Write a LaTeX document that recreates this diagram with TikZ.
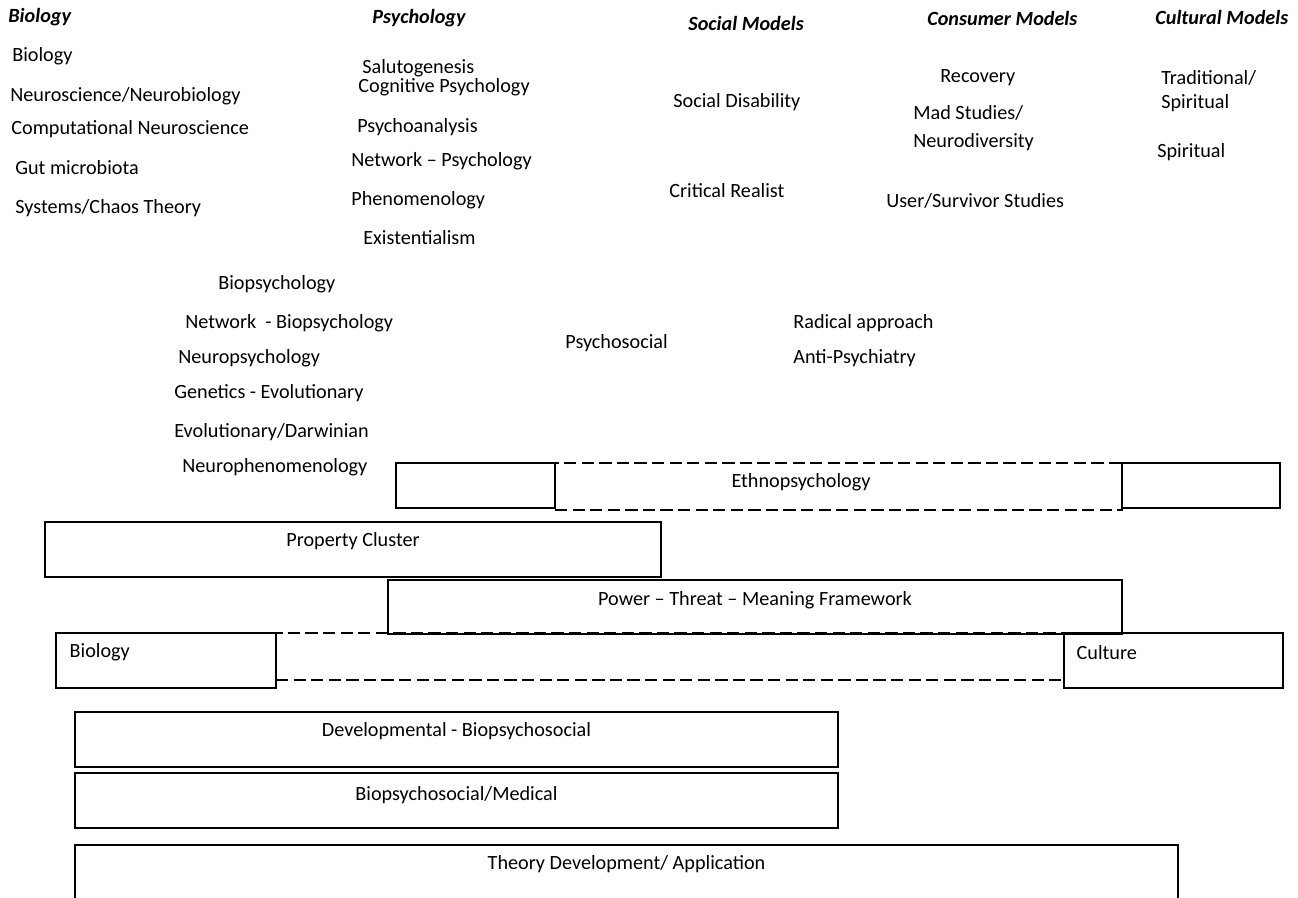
\documentclass[tikz,border=0pt]{standalone}
\usepackage{fontspec}
\setmainfont{Carlito}
\usetikzlibrary{fit,positioning}
\begin{document}
\begin{tikzpicture}[
    x=0.02cm, y=-0.02cm,
    every node/.style={font=\fontsize{11.5}{13}\selectfont},
    item/.style={anchor=west, inner sep=0pt},
    head/.style={anchor=west, inner sep=0pt, font=\fontsize{11.5}{13}\selectfont\bfseries\itshape},
    lbl/.style={inner sep=0pt},
    box/.style={draw, line width=0.8pt, inner sep=0pt},
    dashbox/.style={draw, line width=0.8pt, inner sep=0pt, dash pattern=on 7pt off 3pt}
]
    \useasboundingbox (0,0) rectangle (1298,898);

    % column headings
    \node[head] (hBio) at (8,17) {Biology};
    \node[head] (hPsy) at (372,18) {Psychology};
    \node[head] (hSoc) at (688,23) {Social Models};
    \node[head] (hCon) at (927,18) {Consumer Models};
    \node[head] (hCul) at (1155,17) {Cultural Models};

    % biology
    \node[item] (bio) at (12,56) {Biology};
    \node[item] (neuro) at (10,96) {Neuroscience/Neurobiology};
    \node[item] (comp) at (11,129) {Computational Neuroscience};
    \node[item] (gut) at (15,168) {Gut microbiota};
    \node[item] (chaos) at (15,208) {Systems/Chaos Theory};

    % psychology
    \node[item] (saluto) at (362,68) {Salutogenesis};
    \node[item] (cogn) at (358,87) {Cognitive Psychology};
    \node[item] (psyan) at (357,127) {Psychoanalysis};
    \node[item] (netpsy) at (351,161) {Network -- Psychology};
    \node[item] (phen) at (351,200) {Phenomenology};
    \node[item] (exist) at (363,238) {Existentialism};

    % social models
    \node[item] (socdis) at (673,102) {Social Disability};
    \node[item] (crit) at (669,191) {Critical Realist};

    % consumer models
    \node[item] (recov) at (940,78) {Recovery};
    \node[item] (mad) at (913,113) {Mad Studies/};
    \node[item] (neurodiv) at (913,142) {Neurodiversity};
    \node[item] (user) at (886,201) {User/Survivor Studies};

    % cultural models
    \node[item] (trad) at (1161,78) {Traditional/};
    \node[item] (spirA) at (1161,103) {Spiritual};
    \node[item] (spirB) at (1157,152) {Spiritual};

    % in between
    \node[item] (biopsy) at (218,284) {Biopsychology};
    \node[item] (netbio) at (185,323) {Network\ \ - Biopsychology};
    \node[item] (neuropsy) at (178,358) {Neuropsychology};
    \node[item] (genet) at (174,393) {Genetics - Evolutionary};
    \node[item] (darwin) at (174,432) {Evolutionary/Darwinian};
    \node[item] (neurophen) at (182,467) {Neurophenomenology};
    \node[item] (psysoc) at (565,343) {Psychosocial};
    \node[item] (radical) at (793,323) {Radical approach};
    \node[item] (anti) at (793,358) {Anti-Psychiatry};

    % frameworks
    \node[dashbox, fit={(555,463) (1122,510)}] (ethD) {};
    \node[box, fit={(396,463) (555,508)}] (ethL) {};
    \node[box, fit={(1122,463) (1280,508)}] (ethR) {};
    \node[lbl] (ethText) at (801,482) {Ethnopsychology};

    \node[box, fit={(45,522) (661,577)}] (prop) {};
    \node[lbl] (propText) at ([yshift=-0.4cm]prop.north) {Property Cluster};

    \node[box, fit={(388,580) (1122,634)}] (ptm) {};
    \node[lbl] (ptmText) at ([yshift=-0.42cm]ptm.north) {Power -- Threat -- Meaning Framework};

    \node[dashbox, fit={(276,633) (1064,680)}] (midD) {};
    \node[box, fit={(56,633) (276,688)}] (bioBox) {};
    \node[box, fit={(1064,633) (1283,688)}] (culBox) {};
    \node[item] (bioText) at ([xshift=0.28cm, yshift=-0.4cm]bioBox.north west) {Biology};
    \node[item] (culText) at ([xshift=0.26cm, yshift=-0.4cm]culBox.north west) {Culture};

    \node[box, fit={(75,712) (838,767)}] (dev) {};
    \node[lbl] (devText) at ([yshift=-0.4cm]dev.north) {Developmental - Biopsychosocial};

    \node[box, fit={(75,773) (838,828)}] (bpsm) {};
    \node[lbl] (bpsmText) at ([yshift=-0.46cm]bpsm.north) {Biopsychosocial/Medical};

    \node[box, fit={(75,845) (1178,912)}] (theory) {};
    \node[lbl] (theoryText) at ([yshift=-0.4cm]theory.north) {Theory Development/ Application};
\end{tikzpicture}
\end{document}
